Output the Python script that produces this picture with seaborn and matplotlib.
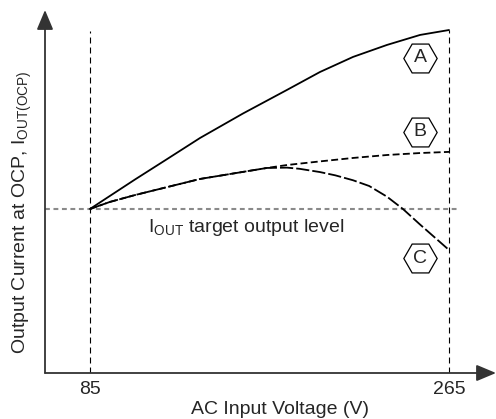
import numpy as np
import pandas as pd
import matplotlib
matplotlib.use("Agg")
import matplotlib.pyplot as plt
import seaborn as sns

# Curve data: AC input voltage (V) and OCP output current (relative to target level = 1.0)
volt_a = [85, 107.6, 122.6, 140.2, 161.7, 183.8, 200.3, 216.9, 233.9, 250.5, 265]
curr_a = [1.0, 1.180, 1.296, 1.433, 1.582, 1.726, 1.835, 1.927, 2.0, 2.061, 2.091]

volt_b = [85, 95, 107.6, 140.2, 161.7, 173.7, 183.8, 200.3, 216.9, 233.9, 250.5, 265]
curr_b = [1.0, 1.043, 1.085, 1.183, 1.226, 1.25, 1.268, 1.290, 1.311, 1.329, 1.341, 1.348]

volt_c = [85, 95, 107.6, 140.2, 161.7, 173.7, 183.8, 190, 200.3, 208, 216.9, 225, 233.9,
          241.9, 250.5, 265]
curr_c = [1.0, 1.043, 1.085, 1.183, 1.226, 1.25, 1.252, 1.245, 1.225, 1.205, 1.175, 1.14,
          1.075, 1.0, 0.905, 0.75]

target_level = 1.0
v_min, v_max = 85, 265
tick_labels = ["85", "265"]
curve_labels = ["A", "B", "C"]
label_pos = [(250.5, 1.921), (250.5, 1.470), (250.5, 0.701)]

df = pd.DataFrame({
    "voltage": volt_a + volt_b + volt_c,
    "current": curr_a + curr_b + curr_c,
    "curve": ["A"] * len(volt_a) + ["B"] * len(volt_b) + ["C"] * len(volt_c),
})

sns.set_style("white")
plt.rcParams["font.family"] = ["Liberation Sans", "DejaVu Sans"]
plt.rcParams["mathtext.fontset"] = "custom"
plt.rcParams["mathtext.rm"] = "Liberation Sans"
plt.rcParams["mathtext.it"] = "Liberation Sans"
plt.rcParams["lines.scale_dashes"] = False

FS = 14

fig = plt.figure(figsize=(4.96, 4.19), dpi=100)
ax = fig.add_axes([45 / 496, 1 - 373 / 419, 451 / 496, 363 / 419])

# reference lines
ax.plot([62.5, 269], [target_level, target_level], color="#8a8a8a", lw=1.5,
        dashes=(3.5, 2.6), zorder=1)
ax.plot([v_min, v_min], [0, 2.085], color="black", lw=0.8, dashes=(4.3, 2.9), zorder=1)
ax.plot([v_max, v_max], [0, 2.091], color="black", lw=0.8, dashes=(4.3, 2.9), zorder=1)

sns.lineplot(data=df, x="voltage", y="current", style="curve", hue="curve",
             palette={"A": "black", "B": "black", "C": "black"},
             dashes={"A": "", "B": (5, 2.4), "C": (9.5, 2.2)},
             sort=False, estimator=None, lw=1.3, legend=False, ax=ax, zorder=3)

# hexagon tags
for lab, (xv, yv) in zip(curve_labels, label_pos):
    ax.plot([xv], [yv], marker="H", markersize=24, markerfacecolor="white",
            markeredgecolor="black", markeredgewidth=0.9, zorder=4)
    ax.text(xv, yv, lab, ha="center", va="center", fontsize=FS, zorder=5)

ax.text(114.1, 0.86, r"$\mathregular{I_{OUT}}$ target output level",
        ha="left", va="baseline", fontsize=FS)

ax.set_xlim(62.44, 288.57)
ax.set_ylim(0, 2.213)
ax.set_xticks([v_min, v_max])
ax.set_xticklabels(tick_labels, fontsize=FS)
ax.set_yticks([])
ax.tick_params(axis="x", length=0, pad=6)
ax.set_xlabel("")
ax.set_ylabel("")
for s in ax.spines.values():
    s.set_visible(False)

# axes with arrow heads
arrow = dict(arrowstyle="-|>,head_length=1.0,head_width=0.42", color="#333333",
             lw=1.3, mutation_scale=12, shrinkA=0, shrinkB=0)
ax.annotate("", xy=(1, 0), xytext=(0, 0), xycoords="axes fraction",
            textcoords="axes fraction", arrowprops=arrow, annotation_clip=False)
ax.annotate("", xy=(0, 1), xytext=(0, 0), xycoords="axes fraction",
            textcoords="axes fraction", arrowprops=arrow, annotation_clip=False)

fig.text(22 / 496, 1 - 212 / 419, r"Output Current at OCP, $\mathregular{I_{OUT(OCP)}}$",
         rotation=90, ha="center", va="center", fontsize=FS)
fig.text(280 / 496, 1 - 409 / 419, "AC Input Voltage (V)", ha="center", va="center",
         fontsize=FS)

fig.savefig("out.png", dpi=100)
